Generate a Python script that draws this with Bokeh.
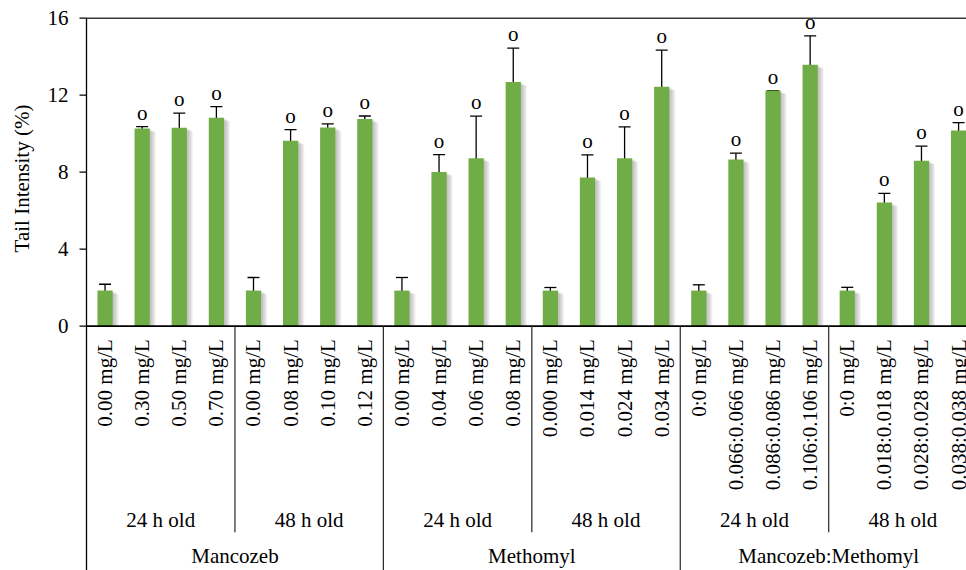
import math

from bokeh.core.properties import value
from bokeh.embed import file_html
from bokeh.models import ColumnDataSource, Range1d, TeeHead, Whisker
from bokeh.plotting import figure
from bokeh.resources import INLINE

# ---- data ---------------------------------------------------------------
pesticides = ["Mancozeb", "Methomyl", "Mancozeb:Methomyl"]
ages = ["24 h old", "48 h old"]
concentrations = [
    "0.00 mg/L", "0.30 mg/L", "0.50 mg/L", "0.70 mg/L",
    "0.00 mg/L", "0.08 mg/L", "0.10 mg/L", "0.12 mg/L",
    "0.00 mg/L", "0.04 mg/L", "0.06 mg/L", "0.08 mg/L",
    "0.000 mg/L", "0.014 mg/L", "0.024 mg/L", "0.034 mg/L",
    "0:0 mg/L", "0.066:0.066 mg/L", "0.086:0.086 mg/L", "0.106:0.106 mg/L",
    "0:0 mg/L", "0.018:0.018 mg/L", "0.028:0.028 mg/L", "0.038:0.038 mg/L",
]
tail_intensity = [
    1.85, 10.27, 10.31, 10.83,
    1.85, 9.63, 10.32, 10.76,
    1.85, 8.01, 8.72, 12.68,
    1.85, 7.73, 8.72, 12.44,
    1.85, 8.66, 12.24, 13.58,
    1.85, 6.42, 8.60, 10.17,
]
std_error = [
    0.33, 0.10, 0.76, 0.58,
    0.68, 0.58, 0.19, 0.16,
    0.68, 0.90, 2.19, 1.77,
    0.16, 1.17, 1.63, 1.90,
    0.30, 0.33, 0.00, 1.50,
    0.17, 0.48, 0.75, 0.41,
]
significance = [
    "", "o", "o", "o",
    "", "o", "o", "o",
    "", "o", "o", "o",
    "", "o", "o", "o",
    "", "o", "o", "o",
    "", "o", "o", "o",
]
y_ticks = [0, 4, 8, 12, 16]
y_label = "Tail Intensity (%)"

# ---- geometry (pixels) --------------------------------------------------
W, H = 966, 570
AXIS_X = 86.0          # left edge of the plotting area
ZERO_Y = 325.7         # baseline of the bars
PX_PER_CAT = 37.11     # width of one category slot
PX_PER_UNIT = 19.25    # pixels per 1 % tail intensity
Y_MAX = 16


def px_x(n):
    return n / PX_PER_CAT


def px_y(n):
    return n / PX_PER_UNIT


FONT = value("Liberation Serif")
FS = "21px"
GREEN = "#70AD47"
BAR_W = 0.41
per_age = 4
per_pest = per_age * len(ages)
n_cat = len(tail_intensity)

x_range = Range1d(-px_x(AXIS_X), px_x(W - AXIS_X))
y_range = Range1d(-px_y(H - ZERO_Y), px_y(ZERO_Y))

xs = [i + 0.5 for i in range(n_cat)]
src = ColumnDataSource(dict(
    x=xs,
    top=tail_intensity,
    upper=[v + e for v, e in zip(tail_intensity, std_error)],
    lower=[v - e for v, e in zip(tail_intensity, std_error)],
    sig=significance,
    conc=concentrations,
))

p = figure(
    width=W, height=H,
    x_range=x_range, y_range=y_range,
    x_axis_location=None, y_axis_location=None,
    toolbar_location=None,
    output_backend="svg",
    min_border=0,
)
p.outline_line_color = None
p.grid.visible = False
p.background_fill_color = "white"
p.border_fill_color = "white"

# soft drop shadow to the right of each bar
for k in range(1, 7):
    p.vbar(x=[x + px_x(k) for x in xs], top=[t - px_y(k * 0.6) for t in tail_intensity],
           bottom=0, width=BAR_W, fill_color="#808080", fill_alpha=0.1,
           line_color=None)

p.vbar(x="x", top="top", bottom=0, width=BAR_W, source=src,
       fill_color=GREEN, line_color=None)

p.add_layout(Whisker(
    source=src, base="x", upper="upper", lower="lower",
    line_color="black", line_width=1.3,
    upper_head=TeeHead(size=12, line_color="black", line_width=1.3),
    lower_head=TeeHead(size=12, line_color="black", line_width=1.3),
))

# significance marks above the error bars
p.text(x="x", y="upper", text="sig", source=src, y_offset=-14,
       text_align="center", text_baseline="middle",
       text_font=FONT, text_font_size=FS, text_color="black")

x_end = px_x(W - AXIS_X)

# top border of the plotting area
p.segment(x0=[0], y0=[Y_MAX], x1=[x_end], y1=[Y_MAX],
          line_color="#3a3a3a", line_width=1.4)

# value axis: rule, outward ticks, tick labels, title
p.segment(x0=[0], y0=[y_range.start], x1=[0], y1=[Y_MAX],
          line_color="black", line_width=1.3)
p.segment(x0=[-px_x(7)] * len(y_ticks), y0=y_ticks, x1=[0] * len(y_ticks), y1=y_ticks,
          line_color="black", line_width=1.3)
p.text(x=[-px_x(18)] * len(y_ticks), y=y_ticks, text=[str(t) for t in y_ticks],
       text_align="right", text_baseline="middle",
       text_font=FONT, text_font_size=FS, text_color="black")
p.text(x=[-px_x(AXIS_X - 21)], y=[px_y(ZERO_Y - 178)], text=[y_label], angle=math.pi / 2,
       text_align="center", text_baseline="middle",
       text_font=FONT, text_font_size=FS, text_color="black")

# category axis baseline
p.segment(x0=[0], y0=[0], x1=[x_end], y1=[0], line_color="black", line_width=1.8)

# concentration labels (rotated)
p.text(x="x", y=-px_y(13), text="conc", source=src, angle=math.pi / 2,
       text_align="right", text_baseline="middle",
       text_font=FONT, text_font_size=FS, text_color="black")

# age group labels and their separators
age_x, age_txt = [], []
for g in range(len(pesticides)):
    for a, age in enumerate(ages):
        age_x.append(g * per_pest + a * per_age + per_age / 2)
        age_txt.append(age)
p.text(x=age_x, y=[-px_y(193.5)] * len(age_x), text=age_txt,
       text_align="center", text_baseline="middle",
       text_font=FONT, text_font_size=FS, text_color="black")

minor_x = [g * per_pest + per_age for g in range(len(pesticides))]
p.segment(x0=minor_x, y0=[0] * len(minor_x), x1=minor_x,
          y1=[-px_y(206)] * len(minor_x), line_color="#262626", line_width=1.2)

# pesticide labels and their separators
pest_x = [g * per_pest + per_pest / 2 for g in range(len(pesticides))]
p.text(x=pest_x, y=[-px_y(230)] * len(pest_x), text=pesticides,
       text_align="center", text_baseline="middle",
       text_font=FONT, text_font_size=FS, text_color="black")

major_x = [g * per_pest for g in range(1, len(pesticides))]
p.segment(x0=major_x, y0=[0] * len(major_x), x1=major_x,
          y1=[y_range.start] * len(major_x), line_color="#262626", line_width=1.2)

open("out.html", "w").write(file_html(p, INLINE))
